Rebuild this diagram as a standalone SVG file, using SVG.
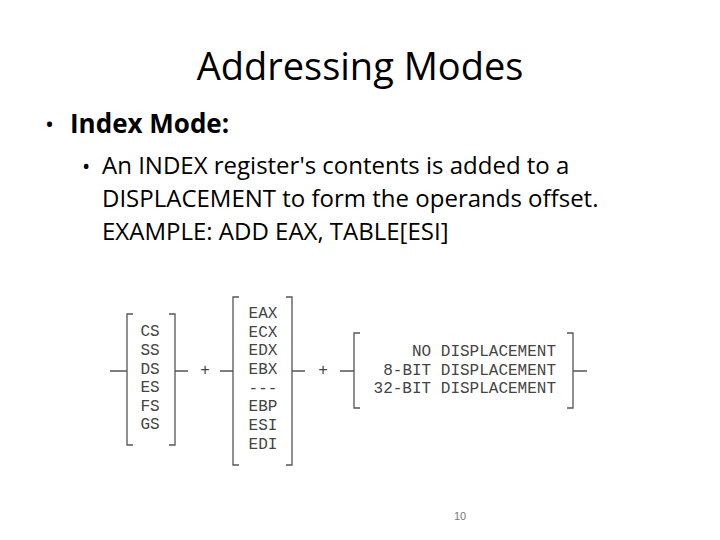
<svg xmlns="http://www.w3.org/2000/svg" width="720" height="540" viewBox="0 0 720 540">
<style>
.t{font-family:"Open Sans","Liberation Sans",sans-serif;fill:#000}
.m{font-family:"Liberation Mono",monospace;font-size:16px;fill:#444}
.b{fill:none;stroke:#555;stroke-width:1.3}
</style>
<rect width="720" height="540" fill="#fff"/>
<text class="t" x="360" y="80" font-size="38" text-anchor="middle">Addressing Modes</text>
<text class="t" x="45" y="133" font-size="24">•</text>
<text class="t" x="70" y="133" font-size="26" font-weight="bold">Index Mode:</text>
<text class="t" x="82" y="174" font-size="22">•</text>
<text class="t" x="102" y="174" font-size="24">An INDEX register's contents is added to a</text>
<text class="t" x="102" y="207" font-size="24">DISPLACEMENT to form the operands offset.</text>
<text class="t" x="102" y="240" font-size="24">EXAMPLE: ADD EAX, TABLE[ESI]</text>
<g id="segment">
<path class="b" d="M133,314 H127 V445 H133 M169,314 H175 V445 H169"/>
<text class="m" text-anchor="middle" x="150" y="336">CS</text>
<text class="m" text-anchor="middle" x="150" y="355">SS</text>
<text class="m" text-anchor="middle" x="150" y="374">DS</text>
<text class="m" text-anchor="middle" x="150" y="392">ES</text>
<text class="m" text-anchor="middle" x="150" y="411">FS</text>
<text class="m" text-anchor="middle" x="150" y="429">GS</text>
</g>
<g id="index">
<path class="b" d="M239,297 H233 V465 H239 M286,297 H292 V465 H286"/>
<text class="m" text-anchor="middle" x="263" y="318">EAX</text>
<text class="m" text-anchor="middle" x="263" y="337">ECX</text>
<text class="m" text-anchor="middle" x="263" y="355">EDX</text>
<text class="m" text-anchor="middle" x="263" y="374">EBX</text>
<text class="m" text-anchor="middle" x="263" y="393">---</text>
<text class="m" text-anchor="middle" x="263" y="411">EBP</text>
<text class="m" text-anchor="middle" x="263" y="430">ESI</text>
<text class="m" text-anchor="middle" x="263" y="449">EDI</text>
</g>
<g id="displacement">
<path class="b" d="M360,333 H354 V408 H360 M567,333 H573 V408 H567"/>
<text class="m" text-anchor="end" x="556" y="356">NO DISPLACEMENT</text>
<text class="m" text-anchor="end" x="556" y="375">8-BIT DISPLACEMENT</text>
<text class="m" text-anchor="end" x="556" y="393">32-BIT DISPLACEMENT</text>
</g>
<g id="connectors">
<path class="b" d="M110,371 H127 M175,371 H188 M220,371 H233 M292,371 H305 M340,371 H354 M573,371 H587"/>
<text class="m" text-anchor="middle" x="205" y="375">+</text>
<text class="m" text-anchor="middle" x="323" y="375">+</text>
</g>
<text x="460" y="520" font-family="Liberation Sans,sans-serif" font-size="11" fill="#777" text-anchor="middle">10</text>
</svg>
